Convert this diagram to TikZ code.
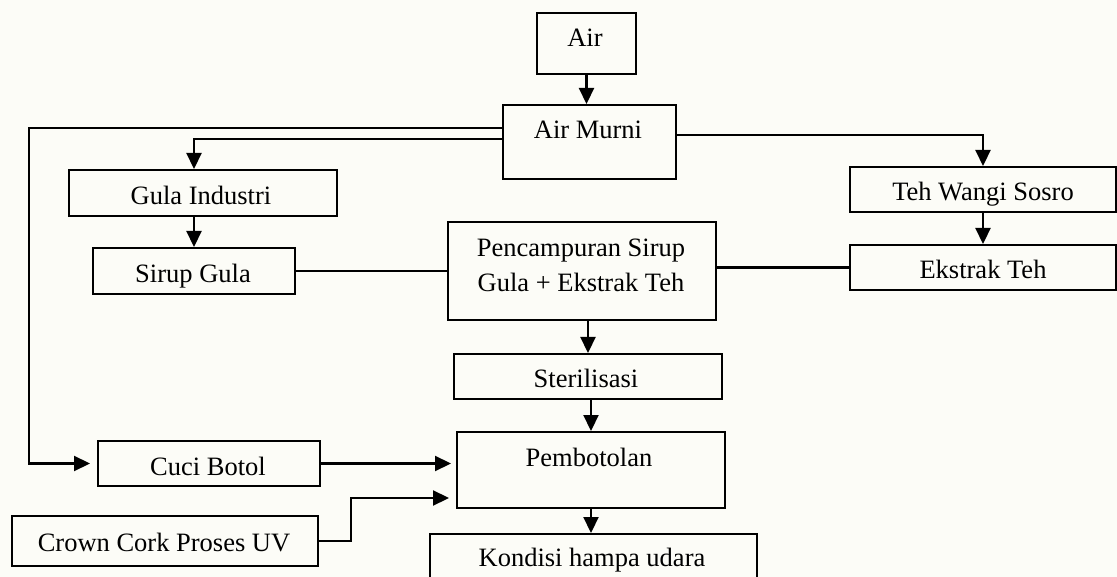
\documentclass[tikz,border=0pt]{standalone}
\usepackage{fontspec}
\setmainfont{Liberation Serif}
\usetikzlibrary{arrows.meta}
\definecolor{bgcol}{RGB}{252,252,247}
\begin{document}
\begin{tikzpicture}[x=1pt,y=-1pt,
  box/.style={draw, line width=2pt, rectangle, inner sep=0pt, anchor=north west},
  lbl/.style={anchor=base, inner sep=0pt, font=\fontsize{26.5}{35}\selectfont},
  conn/.style={line width=2.2pt},
  arr/.style={line width=2.2pt, -{Triangle[length=16pt,width=15pt]}}]
\clip (0,0) rectangle (1117,577);
\fill[bgcol] (0,0) rectangle (1117,577);
% boxes
\node[box, minimum width=99pt, minimum height=61pt] (air) at (536,12) {};
\node[box, minimum width=173pt, minimum height=74pt] (airmurni) at (502,104) {};
\node[box, minimum width=268pt, minimum height=46pt] (gula) at (68,169) {};
\node[box, minimum width=202pt, minimum height=46pt] (sirup) at (92,247) {};
\node[box, minimum width=266pt, minimum height=45pt] (teh) at (849,166) {};
\node[box, minimum width=266pt, minimum height=45pt] (ekstrak) at (849,244) {};
\node[box, minimum width=268pt, minimum height=98pt] (pencampuran) at (447,221) {};
\node[box, minimum width=268pt, minimum height=45pt] (steril) at (453,353) {};
\node[box, minimum width=268pt, minimum height=76pt] (pembotolan) at (456,431) {};
\node[box, minimum width=327pt, minimum height=70pt] (kondisi) at (429,533) {};
\node[box, minimum width=222pt, minimum height=45pt] (cuci) at (97,440) {};
\node[box, minimum width=306pt, minimum height=50pt] (crown) at (11,515) {};
% texts
\node[lbl] (tair) at (585,47) {Air};
\node[lbl] (tairmurni) at (588,139) {Air Murni};
\node[lbl] (tgula) at (201,205) {Gula Industri};
\node[lbl] (tsirup) at (193,283) {Sirup Gula};
\node[lbl] (tteh) at (983,201) {Teh Wangi Sosro};
\node[lbl] (tekstrak) at (983,279) {Ekstrak Teh};
\node[lbl, align=center] (tpencampuran) at (581,292) {Pencampuran Sirup\\Gula + Ekstrak Teh};
\node[lbl] (tsteril) at (586,388) {Sterilisasi};
\node[lbl] (tpembotolan) at (589,466) {Pembotolan};
\node[lbl] (tkondisi) at (592,566) {Kondisi hampa udara};
\node[lbl] (tcuci) at (208,475) {Cuci Botol};
\node[lbl] (tcrown) at (164,551) {Crown Cork Proses UV};
% helper coordinates
\coordinate (L) at (29,128);
\coordinate (K) at (351,498);
% connectors
\draw[arr] (air.south) -- (air.south |- airmurni.north);
\draw[arr, shorten >=7pt] ([yshift=-24pt]airmurni.north west) -- (L) |- (cuci.west);
\draw[arr] ([yshift=-35pt]airmurni.north west) -| (sirup.north |- gula.north);
\draw[arr] ([yshift=-31pt]airmurni.north east) -| (teh.north);
\draw[arr] (sirup.north |- gula.south) -- (sirup.north);
\draw[arr] (teh.south) -- (ekstrak.north);
\draw[conn] (sirup.east) -- (pencampuran.west);
\draw[conn] (pencampuran.east |- ekstrak.west) -- (ekstrak.west);
\draw[arr] (steril.north |- pencampuran.south) -- (steril.north);
\draw[arr] (pembotolan.north |- steril.south) -- (pembotolan.north);
\draw[arr] (pembotolan.south) -- (pembotolan.south |- kondisi.north);
\draw[arr, shorten >=5pt] (cuci.east) -- (cuci.east -| pembotolan.west);
\draw[arr, shorten >=7pt] (crown.east) -| (K) -- (K -| pembotolan.west);
\end{tikzpicture}
\end{document}
